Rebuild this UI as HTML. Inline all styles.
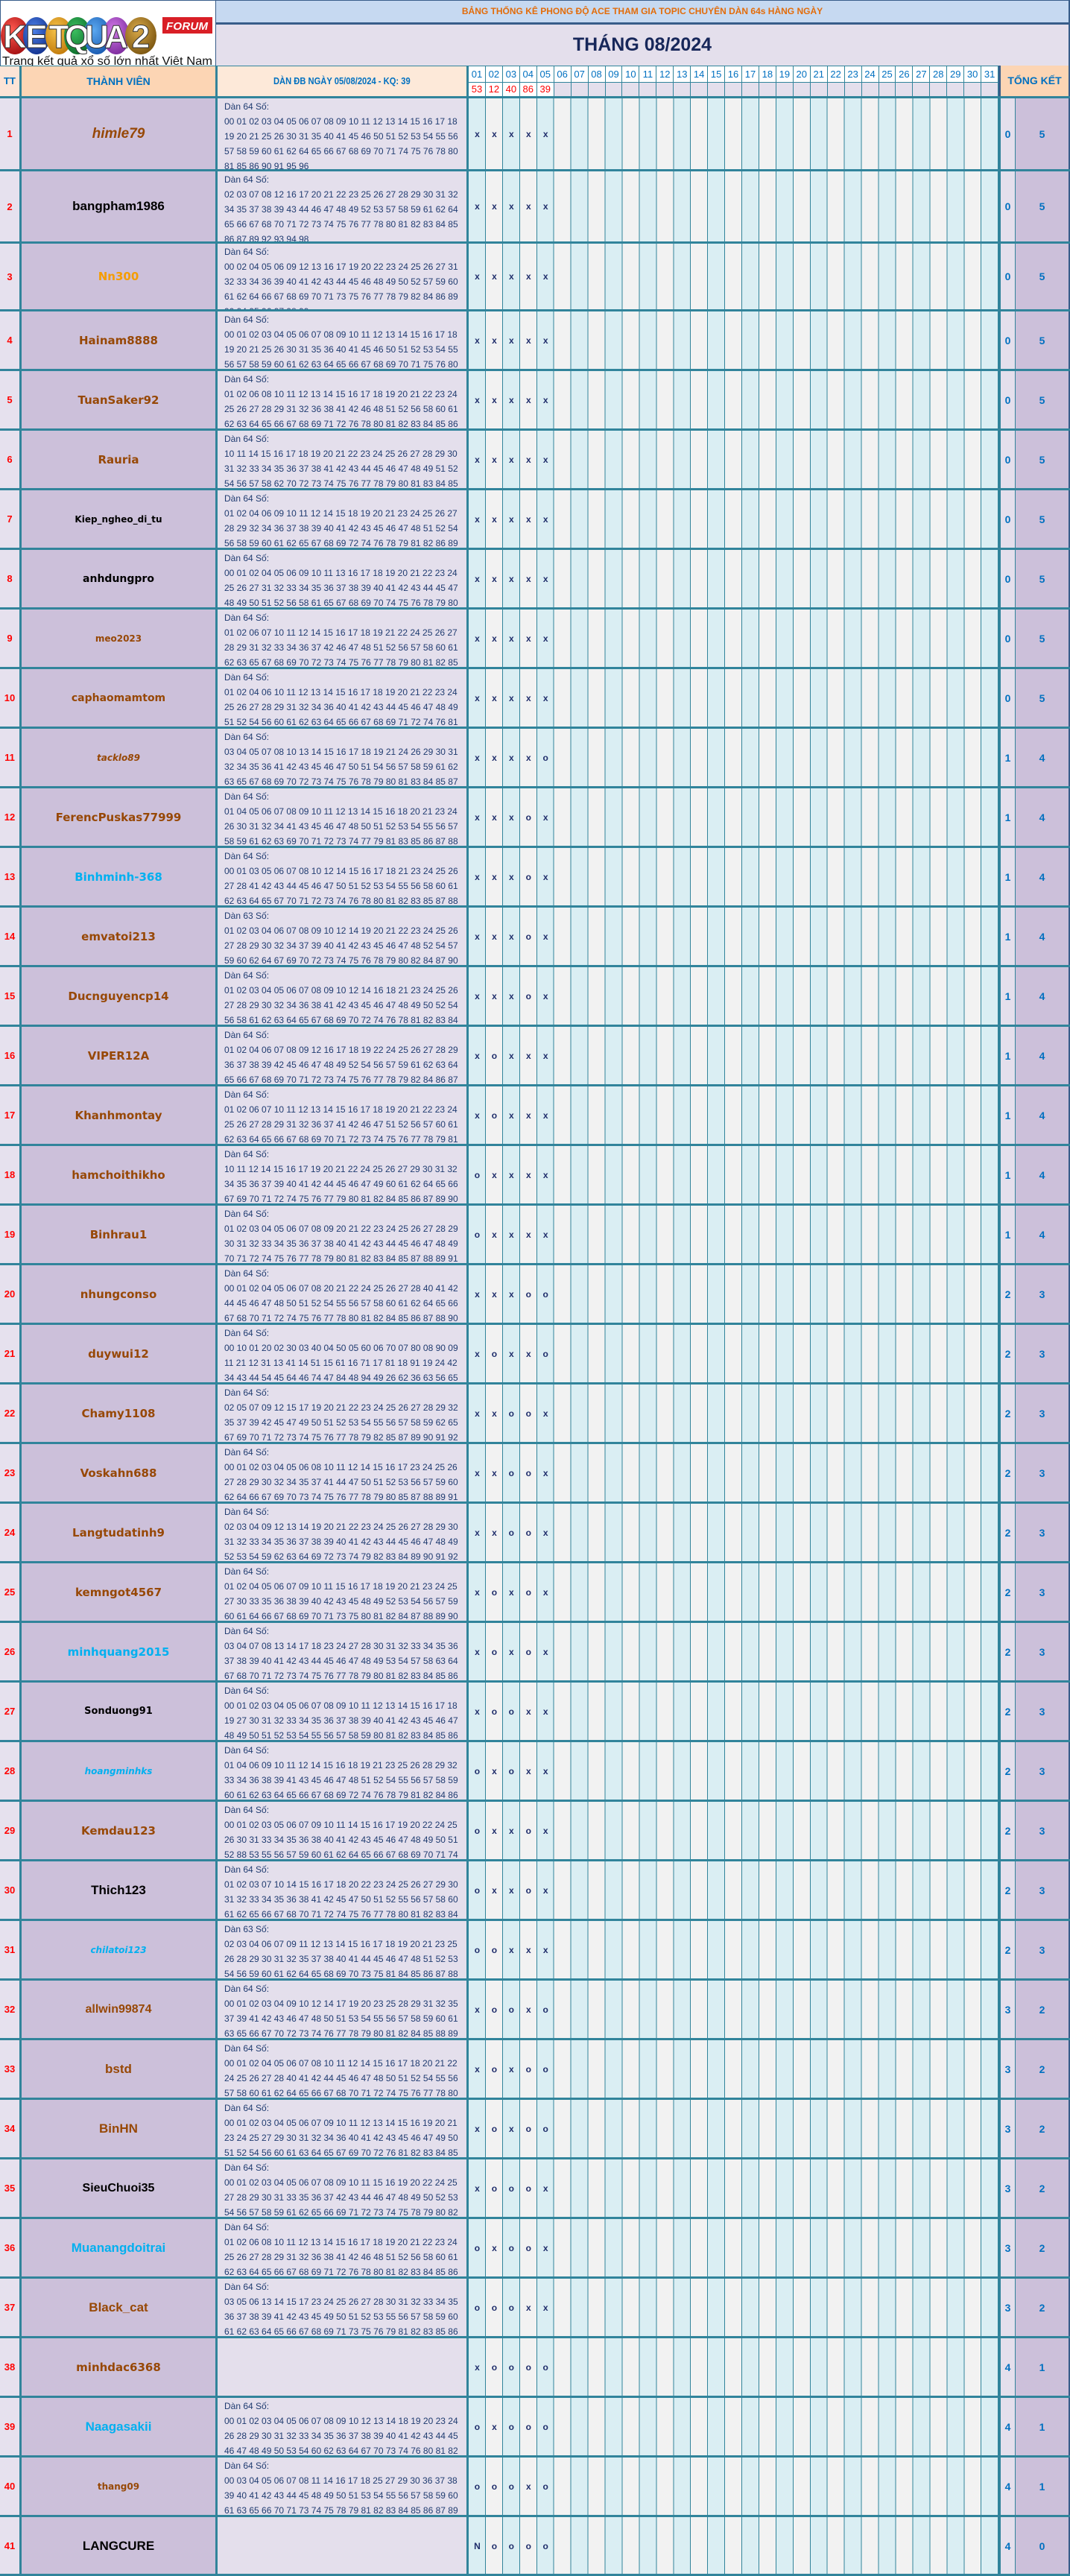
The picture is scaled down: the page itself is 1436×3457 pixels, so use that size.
<!DOCTYPE html>
<html><head><meta charset="utf-8">
<style>
*{margin:0;padding:0;box-sizing:border-box}
body{width:1436px;height:3457px;position:relative;background:#fff;font-family:"Liberation Sans",sans-serif;overflow:hidden}
.a{position:absolute}
.r{position:absolute;left:0;width:1436px;border-top:3px solid #31849b}
.r>div{position:absolute;top:0;bottom:0}
.t{left:0;width:26px;background:#e6e1ee;color:#f00;font-weight:bold;font-size:13px;display:flex;align-items:center;justify-content:center}
.n{left:26px;width:263px;border-left:3px solid #31849b;background:#ccc0da;display:flex;align-items:center;justify-content:center;font-family:"DejaVu Sans",sans-serif;font-weight:bold;font-size:15px;color:#974806;white-space:nowrap}
.d{left:289px;width:340px;border-left:3px solid #31849b;background:#e4dfec;color:#1f3b70;font-size:12px;line-height:20px;padding:1px 0 0 9px;white-space:nowrap;overflow:hidden}
.m{left:626px;width:717px;border-left:3px solid #31849b;border-right:3px solid #31849b;display:flex;align-items:center;background:repeating-linear-gradient(90deg,#daeef3 0,#daeef3 21.94px,#31849b 21.94px,#31849b 22.94px,#f2f2f2 22.94px,#f2f2f2 44.88px,#31849b 44.88px,#31849b 45.88px)}
.m span{width:22.94px;text-align:center;font-weight:bold;font-size:12px;color:#1f2d6b}
.u{left:1343px;width:20px;background:#e4dfec;border-right:1px solid #31849b;display:flex;align-items:center;justify-content:center;color:#0070c0;font-weight:bold;font-size:14px}
.v{left:1363px;width:73px;background:#ccc0da;border-right:2px solid #385d8a;display:flex;align-items:center;justify-content:center;color:#0070c0;font-weight:bold;font-size:14px}
.L{font-family:"Liberation Sans",sans-serif;font-size:17px}
.k{color:#000}.b{color:#00b0f0}.o{color:#f59d00}.i{font-style:italic}.s{font-size:12px}.s13{font-size:13px}.s14{font-size:14px}
.hd{display:flex;position:absolute;left:629px;width:711px}
.hd span{width:22.94px;border-right:1px solid #31849b;text-align:center;font-size:13px}
</style></head><body>

<!-- logo -->
<div class="a" style="left:0;top:0;width:289px;height:88px;background:#fff;border-left:1px solid #385d8a;border-top:1px solid #385d8a">
<svg width="289" height="88" viewBox="0 0 289 88">
<defs>
<radialGradient id="g1" cx="40%" cy="35%" r="70%"><stop offset="0" stop-color="#ff5a50"/><stop offset="1" stop-color="#a30d10"/></radialGradient>
<radialGradient id="g2" cx="40%" cy="35%" r="70%"><stop offset="0" stop-color="#4c80e8"/><stop offset="1" stop-color="#12318e"/></radialGradient>
<radialGradient id="g3" cx="40%" cy="35%" r="70%"><stop offset="0" stop-color="#f6c34a"/><stop offset="1" stop-color="#c17a0b"/></radialGradient>
<radialGradient id="g4" cx="40%" cy="35%" r="70%"><stop offset="0" stop-color="#3cc060"/><stop offset="1" stop-color="#0b6b2a"/></radialGradient>
<radialGradient id="g5" cx="40%" cy="35%" r="70%"><stop offset="0" stop-color="#5aa8f0"/><stop offset="1" stop-color="#1859b0"/></radialGradient>
<radialGradient id="g6" cx="40%" cy="35%" r="70%"><stop offset="0" stop-color="#d27ae8"/><stop offset="1" stop-color="#7b2a9c"/></radialGradient>
<radialGradient id="g7" cx="40%" cy="35%" r="70%"><stop offset="0" stop-color="#d8a848"/><stop offset="1" stop-color="#7a5510"/></radialGradient>
</defs>
<ellipse cx="19" cy="47" rx="19" ry="25" fill="url(#g1)"/>
<ellipse cx="48" cy="47" rx="18" ry="25" fill="url(#g2)"/>
<ellipse cx="78" cy="47" rx="18" ry="25" fill="url(#g3)"/>
<ellipse cx="103" cy="47" rx="18" ry="25" fill="url(#g4)"/>
<ellipse cx="129" cy="47" rx="18" ry="25" fill="url(#g5)"/>
<ellipse cx="155" cy="47" rx="18" ry="25" fill="url(#g6)"/>
<ellipse cx="188" cy="47" rx="21" ry="25" fill="url(#g7)"/>
<g font-family="Liberation Sans" font-weight="bold" font-size="44" fill="#fff" stroke="#333" stroke-width="1" text-anchor="middle">
<text x="19" y="63">K</text><text x="48" y="63">E</text><text x="78" y="63">T</text><text x="103" y="63">Q</text><text x="129" y="63">U</text><text x="155" y="63">A</text><text x="188" y="63">2</text>
</g>
<rect x="217" y="22" width="67" height="22" fill="#d91f26"/>
<text x="250" y="39" text-anchor="middle" font-family="Liberation Sans" font-weight="bold" font-style="italic" font-size="15" fill="#fff" textLength="56">FORUM</text>
<text x="2" y="86" font-family="Liberation Sans" font-size="16" fill="#111" textLength="282" lengthAdjust="spacingAndGlyphs">Trang kết quả xổ số lớn nhất Việt Nam</text>
</svg></div>

<!-- title -->
<div class="a" style="left:289px;top:0;width:1147px;height:30px;background:#c6d9f1;border-left:1px solid #385d8a;border-top:1px solid #385d8a;border-right:2px solid #385d8a;text-align:center;color:#e36c09;font-weight:bold;font-size:12px;line-height:29px">BẢNG THỐNG KÊ PHONG ĐỘ ACE THAM GIA TOPIC CHUYÊN DÀN 64s HÀNG NGÀY</div>
<div class="a" style="left:289px;top:30px;width:1147px;height:3px;background:#385d8a"></div>
<div class="a" style="left:289px;top:33px;width:1147px;height:55px;background:#e4dfec;border-left:1px solid #385d8a;border-right:2px solid #385d8a;text-align:center;color:#17275a;font-weight:bold;font-size:25px;line-height:54px">THÁNG 08/2024</div>

<!-- header row -->
<div class="a" style="left:0;top:88px;width:1436px;height:1px;background:#31849b"></div>
<div class="a" style="left:0;top:89px;width:26px;height:40px;background:#fce4d6;color:#0070c0;font-weight:bold;font-size:13px;line-height:40px;text-align:center">TT</div>
<div class="a" style="left:26px;top:89px;width:263px;height:40px;background:#fcd5b4;border-left:3px solid #31849b;color:#0070c0;font-weight:bold;font-size:14px;line-height:40px;text-align:center">THÀNH VIÊN</div>
<div class="a" style="left:289px;top:89px;width:340px;height:40px;background:#fde9d9;border-left:3px solid #31849b;border-right:3px solid #31849b;color:#0070c0;font-weight:bold;font-size:13px;line-height:40px;text-align:center"><span style="display:inline-block;transform:scaleX(.86)">DÀN ĐB NGÀY 05/08/2024 - KQ: 39</span></div>
<div class="hd" style="top:89px;height:21px;background:#fff;color:#0070c0;line-height:21px"><span>01</span><span>02</span><span>03</span><span>04</span><span>05</span><span>06</span><span>07</span><span>08</span><span>09</span><span>10</span><span>11</span><span>12</span><span>13</span><span>14</span><span>15</span><span>16</span><span>17</span><span>18</span><span>19</span><span>20</span><span>21</span><span>22</span><span>23</span><span>24</span><span>25</span><span>26</span><span>27</span><span>28</span><span>29</span><span>30</span><span>31</span></div>
<div class="a" style="left:629px;top:110px;width:711px;height:1px;background:#31849b"></div>
<div class="hd" style="top:111px;height:18px;background:#e4dfec;color:#f00;line-height:18px"><span style="background:#fff">53</span><span style="background:#fff">12</span><span style="background:#fff">40</span><span style="background:#fff">86</span><span style="background:#fff">39</span><span></span><span></span><span></span><span></span><span></span><span></span><span></span><span></span><span></span><span></span><span></span><span></span><span></span><span></span><span></span><span></span><span></span><span></span><span></span><span></span><span></span><span></span><span></span><span></span><span></span><span></span></div>
<div class="a" style="left:1340px;top:88px;width:96px;height:41px;background:#fcd5b4;border-left:3px solid #385d8a;border-right:2px solid #385d8a;color:#0070c0;font-weight:bold;font-size:14px;line-height:40px;text-align:center">TỔNG KẾT</div>

<!-- rows -->
<div class="r" style="top:129px;height:98px"><div class="t">1</div><div class="n L i" style="font-size:19px">himle79</div><div class="d">Dàn 64 Số:<br>00 01 02 03 04 05 06 07 08 09 10 11 12 13 14 15 16 17 18<br>19 20 21 25 26 30 31 35 40 41 45 46 50 51 52 53 54 55 56<br>57 58 59 60 61 62 64 65 66 67 68 69 70 71 74 75 76 78 80<br>81 85 86 90 91 95 96</div><div class="m"><span>x</span><span>x</span><span>x</span><span>x</span><span>x</span></div><div class="u">0</div><div class="v">5</div></div>
<div class="r" style="top:227px;height:97px"><div class="t">2</div><div class="n L k">bangpham1986</div><div class="d">Dàn 64 Số:<br>02 03 07 08 12 16 17 20 21 22 23 25 26 27 28 29 30 31 32<br>34 35 37 38 39 43 44 46 47 48 49 52 53 57 58 59 61 62 64<br>65 66 67 68 70 71 72 73 74 75 76 77 78 80 81 82 83 84 85<br>86 87 89 92 93 94 98</div><div class="m"><span>x</span><span>x</span><span>x</span><span>x</span><span>x</span></div><div class="u">0</div><div class="v">5</div></div>
<div class="r" style="top:324px;height:91px"><div class="t">3</div><div class="n o">Nn300</div><div class="d">Dàn 64 Số:<br>00 02 04 05 06 09 12 13 16 17 19 20 22 23 24 25 26 27 31<br>32 33 34 36 39 40 41 42 43 44 45 46 48 49 50 52 57 59 60<br>61 62 64 66 67 68 69 70 71 73 75 76 77 78 79 82 84 86 89<br>90 94 95 96 97 98 99</div><div class="m"><span>x</span><span>x</span><span>x</span><span>x</span><span>x</span></div><div class="u">0</div><div class="v">5</div></div>
<div class="r" style="top:415px;height:80px"><div class="t">4</div><div class="n">Hainam8888</div><div class="d">Dàn 64 Số:<br>00 01 02 03 04 05 06 07 08 09 10 11 12 13 14 15 16 17 18<br>19 20 21 25 26 30 31 35 36 40 41 45 46 50 51 52 53 54 55<br>56 57 58 59 60 61 62 63 64 65 66 67 68 69 70 71 75 76 80</div><div class="m"><span>x</span><span>x</span><span>x</span><span>x</span><span>x</span></div><div class="u">0</div><div class="v">5</div></div>
<div class="r" style="top:495px;height:80px"><div class="t">5</div><div class="n">TuanSaker92</div><div class="d">Dàn 64 Số:<br>01 02 06 08 10 11 12 13 14 15 16 17 18 19 20 21 22 23 24<br>25 26 27 28 29 31 32 36 38 41 42 46 48 51 52 56 58 60 61<br>62 63 64 65 66 67 68 69 71 72 76 78 80 81 82 83 84 85 86</div><div class="m"><span>x</span><span>x</span><span>x</span><span>x</span><span>x</span></div><div class="u">0</div><div class="v">5</div></div>
<div class="r" style="top:575px;height:80px"><div class="t">6</div><div class="n">Rauria</div><div class="d">Dàn 64 Số:<br>10 11 14 15 16 17 18 19 20 21 22 23 24 25 26 27 28 29 30<br>31 32 33 34 35 36 37 38 41 42 43 44 45 46 47 48 49 51 52<br>54 56 57 58 62 70 72 73 74 75 76 77 78 79 80 81 83 84 85</div><div class="m"><span>x</span><span>x</span><span>x</span><span>x</span><span>x</span></div><div class="u">0</div><div class="v">5</div></div>
<div class="r" style="top:655px;height:80px"><div class="t">7</div><div class="n k s">Kiep_ngheo_di_tu</div><div class="d">Dàn 64 Số:<br>01 02 04 06 09 10 11 12 14 15 18 19 20 21 23 24 25 26 27<br>28 29 32 34 36 37 38 39 40 41 42 43 45 46 47 48 51 52 54<br>56 58 59 60 61 62 65 67 68 69 72 74 76 78 79 81 82 86 89</div><div class="m"><span>x</span><span>x</span><span>x</span><span>x</span><span>x</span></div><div class="u">0</div><div class="v">5</div></div>
<div class="r" style="top:735px;height:80px"><div class="t">8</div><div class="n k s14">anhdungpro</div><div class="d">Dàn 64 Số:<br>00 01 02 04 05 06 09 10 11 13 16 17 18 19 20 21 22 23 24<br>25 26 27 31 32 33 34 35 36 37 38 39 40 41 42 43 44 45 47<br>48 49 50 51 52 56 58 61 65 67 68 69 70 74 75 76 78 79 80</div><div class="m"><span>x</span><span>x</span><span>x</span><span>x</span><span>x</span></div><div class="u">0</div><div class="v">5</div></div>
<div class="r" style="top:815px;height:80px"><div class="t">9</div><div class="n s">meo2023</div><div class="d">Dàn 64 Số:<br>01 02 06 07 10 11 12 14 15 16 17 18 19 21 22 24 25 26 27<br>28 29 31 32 33 34 36 37 42 46 47 48 51 52 56 57 58 60 61<br>62 63 65 67 68 69 70 72 73 74 75 76 77 78 79 80 81 82 85</div><div class="m"><span>x</span><span>x</span><span>x</span><span>x</span><span>x</span></div><div class="u">0</div><div class="v">5</div></div>
<div class="r" style="top:895px;height:80px"><div class="t">10</div><div class="n s14">caphaomamtom</div><div class="d">Dàn 64 Số:<br>01 02 04 06 10 11 12 13 14 15 16 17 18 19 20 21 22 23 24<br>25 26 27 28 29 31 32 34 36 40 41 42 43 44 45 46 47 48 49<br>51 52 54 56 60 61 62 63 64 65 66 67 68 69 71 72 74 76 81</div><div class="m"><span>x</span><span>x</span><span>x</span><span>x</span><span>x</span></div><div class="u">0</div><div class="v">5</div></div>
<div class="r" style="top:975px;height:80px"><div class="t">11</div><div class="n i s">tacklo89</div><div class="d">Dàn 64 Số:<br>03 04 05 07 08 10 13 14 15 16 17 18 19 21 24 26 29 30 31<br>32 34 35 36 41 42 43 45 46 47 50 51 54 56 57 58 59 61 62<br>63 65 67 68 69 70 72 73 74 75 76 78 79 80 81 83 84 85 87</div><div class="m"><span>x</span><span>x</span><span>x</span><span>x</span><span>o</span></div><div class="u">1</div><div class="v">4</div></div>
<div class="r" style="top:1055px;height:80px"><div class="t">12</div><div class="n">FerencPuskas77999</div><div class="d">Dàn 64 Số:<br>01 04 05 06 07 08 09 10 11 12 13 14 15 16 18 20 21 23 24<br>26 30 31 32 34 41 43 45 46 47 48 50 51 52 53 54 55 56 57<br>58 59 61 62 63 69 70 71 72 73 74 77 79 81 83 85 86 87 88</div><div class="m"><span>x</span><span>x</span><span>x</span><span>o</span><span>x</span></div><div class="u">1</div><div class="v">4</div></div>
<div class="r" style="top:1135px;height:80px"><div class="t">13</div><div class="n b">Binhminh-368</div><div class="d">Dàn 64 Số:<br>00 01 03 05 06 07 08 10 12 14 15 16 17 18 21 23 24 25 26<br>27 28 41 42 43 44 45 46 47 50 51 52 53 54 55 56 58 60 61<br>62 63 64 65 67 70 71 72 73 74 76 78 80 81 82 83 85 87 88</div><div class="m"><span>x</span><span>x</span><span>x</span><span>o</span><span>x</span></div><div class="u">1</div><div class="v">4</div></div>
<div class="r" style="top:1215px;height:80px"><div class="t">14</div><div class="n">emvatoi213</div><div class="d">Dàn 63 Số:<br>01 02 03 04 06 07 08 09 10 12 14 19 20 21 22 23 24 25 26<br>27 28 29 30 32 34 37 39 40 41 42 43 45 46 47 48 52 54 57<br>59 60 62 64 67 69 70 72 73 74 75 76 78 79 80 82 84 87 90</div><div class="m"><span>x</span><span>x</span><span>x</span><span>o</span><span>x</span></div><div class="u">1</div><div class="v">4</div></div>
<div class="r" style="top:1295px;height:80px"><div class="t">15</div><div class="n">Ducnguyencp14</div><div class="d">Dàn 64 Số:<br>01 02 03 04 05 06 07 08 09 10 12 14 16 18 21 23 24 25 26<br>27 28 29 30 32 34 36 38 41 42 43 45 46 47 48 49 50 52 54<br>56 58 61 62 63 64 65 67 68 69 70 72 74 76 78 81 82 83 84</div><div class="m"><span>x</span><span>x</span><span>x</span><span>o</span><span>x</span></div><div class="u">1</div><div class="v">4</div></div>
<div class="r" style="top:1375px;height:80px"><div class="t">16</div><div class="n">VIPER12A</div><div class="d">Dàn 64 Số:<br>01 02 04 06 07 08 09 12 16 17 18 19 22 24 25 26 27 28 29<br>36 37 38 39 42 45 46 47 48 49 52 54 56 57 59 61 62 63 64<br>65 66 67 68 69 70 71 72 73 74 75 76 77 78 79 82 84 86 87</div><div class="m"><span>x</span><span>o</span><span>x</span><span>x</span><span>x</span></div><div class="u">1</div><div class="v">4</div></div>
<div class="r" style="top:1455px;height:80px"><div class="t">17</div><div class="n">Khanhmontay</div><div class="d">Dàn 64 Số:<br>01 02 06 07 10 11 12 13 14 15 16 17 18 19 20 21 22 23 24<br>25 26 27 28 29 31 32 36 37 41 42 46 47 51 52 56 57 60 61<br>62 63 64 65 66 67 68 69 70 71 72 73 74 75 76 77 78 79 81</div><div class="m"><span>x</span><span>o</span><span>x</span><span>x</span><span>x</span></div><div class="u">1</div><div class="v">4</div></div>
<div class="r" style="top:1535px;height:80px"><div class="t">18</div><div class="n">hamchoithikho</div><div class="d">Dàn 64 Số:<br>10 11 12 14 15 16 17 19 20 21 22 24 25 26 27 29 30 31 32<br>34 35 36 37 39 40 41 42 44 45 46 47 49 60 61 62 64 65 66<br>67 69 70 71 72 74 75 76 77 79 80 81 82 84 85 86 87 89 90</div><div class="m"><span>o</span><span>x</span><span>x</span><span>x</span><span>x</span></div><div class="u">1</div><div class="v">4</div></div>
<div class="r" style="top:1615px;height:80px"><div class="t">19</div><div class="n">Binhrau1</div><div class="d">Dàn 64 Số:<br>01 02 03 04 05 06 07 08 09 20 21 22 23 24 25 26 27 28 29<br>30 31 32 33 34 35 36 37 38 40 41 42 43 44 45 46 47 48 49<br>70 71 72 74 75 76 77 78 79 80 81 82 83 84 85 87 88 89 91</div><div class="m"><span>o</span><span>x</span><span>x</span><span>x</span><span>x</span></div><div class="u">1</div><div class="v">4</div></div>
<div class="r" style="top:1695px;height:80px"><div class="t">20</div><div class="n">nhungconso</div><div class="d">Dàn 64 Số:<br>00 01 02 04 05 06 07 08 20 21 22 24 25 26 27 28 40 41 42<br>44 45 46 47 48 50 51 52 54 55 56 57 58 60 61 62 64 65 66<br>67 68 70 71 72 74 75 76 77 78 80 81 82 84 85 86 87 88 90</div><div class="m"><span>x</span><span>x</span><span>x</span><span>o</span><span>o</span></div><div class="u">2</div><div class="v">3</div></div>
<div class="r" style="top:1775px;height:80px"><div class="t">21</div><div class="n">duywui12</div><div class="d">Dàn 64 Số:<br>00 10 01 20 02 30 03 40 04 50 05 60 06 70 07 80 08 90 09<br>11 21 12 31 13 41 14 51 15 61 16 71 17 81 18 91 19 24 42<br>34 43 44 54 45 64 46 74 47 84 48 94 49 26 62 36 63 56 65</div><div class="m"><span>x</span><span>o</span><span>x</span><span>x</span><span>o</span></div><div class="u">2</div><div class="v">3</div></div>
<div class="r" style="top:1855px;height:80px"><div class="t">22</div><div class="n">Chamy1108</div><div class="d">Dàn 64 Số:<br>02 05 07 09 12 15 17 19 20 21 22 23 24 25 26 27 28 29 32<br>35 37 39 42 45 47 49 50 51 52 53 54 55 56 57 58 59 62 65<br>67 69 70 71 72 73 74 75 76 77 78 79 82 85 87 89 90 91 92</div><div class="m"><span>x</span><span>x</span><span>o</span><span>o</span><span>x</span></div><div class="u">2</div><div class="v">3</div></div>
<div class="r" style="top:1935px;height:80px"><div class="t">23</div><div class="n">Voskahn688</div><div class="d">Dàn 64 Số:<br>00 01 02 03 04 05 06 08 10 11 12 14 15 16 17 23 24 25 26<br>27 28 29 30 32 34 35 37 41 44 47 50 51 52 53 56 57 59 60<br>62 64 66 67 69 70 73 74 75 76 77 78 79 80 85 87 88 89 91</div><div class="m"><span>x</span><span>x</span><span>o</span><span>o</span><span>x</span></div><div class="u">2</div><div class="v">3</div></div>
<div class="r" style="top:2015px;height:80px"><div class="t">24</div><div class="n">Langtudatinh9</div><div class="d">Dàn 64 Số:<br>02 03 04 09 12 13 14 19 20 21 22 23 24 25 26 27 28 29 30<br>31 32 33 34 35 36 37 38 39 40 41 42 43 44 45 46 47 48 49<br>52 53 54 59 62 63 64 69 72 73 74 79 82 83 84 89 90 91 92</div><div class="m"><span>x</span><span>x</span><span>o</span><span>o</span><span>x</span></div><div class="u">2</div><div class="v">3</div></div>
<div class="r" style="top:2095px;height:80px"><div class="t">25</div><div class="n">kemngot4567</div><div class="d">Dàn 64 Số:<br>01 02 04 05 06 07 09 10 11 15 16 17 18 19 20 21 23 24 25<br>27 30 33 35 36 38 39 40 42 43 45 48 49 52 53 54 56 57 59<br>60 61 64 66 67 68 69 70 71 73 75 80 81 82 84 87 88 89 90</div><div class="m"><span>x</span><span>o</span><span>x</span><span>o</span><span>x</span></div><div class="u">2</div><div class="v">3</div></div>
<div class="r" style="top:2175px;height:80px"><div class="t">26</div><div class="n b">minhquang2015</div><div class="d">Dàn 64 Số:<br>03 04 07 08 13 14 17 18 23 24 27 28 30 31 32 33 34 35 36<br>37 38 39 40 41 42 43 44 45 46 47 48 49 53 54 57 58 63 64<br>67 68 70 71 72 73 74 75 76 77 78 79 80 81 82 83 84 85 86</div><div class="m"><span>x</span><span>o</span><span>x</span><span>o</span><span>x</span></div><div class="u">2</div><div class="v">3</div></div>
<div class="r" style="top:2255px;height:80px"><div class="t">27</div><div class="n k s13">Sonduong91</div><div class="d">Dàn 64 Số:<br>00 01 02 03 04 05 06 07 08 09 10 11 12 13 14 15 16 17 18<br>19 27 30 31 32 33 34 35 36 37 38 39 40 41 42 43 45 46 47<br>48 49 50 51 52 53 54 55 56 57 58 59 80 81 82 83 84 85 86</div><div class="m"><span>x</span><span>o</span><span>o</span><span>x</span><span>x</span></div><div class="u">2</div><div class="v">3</div></div>
<div class="r" style="top:2335px;height:80px"><div class="t">28</div><div class="n b i s">hoangminhks</div><div class="d">Dàn 64 Số:<br>01 04 06 09 10 11 12 14 15 16 18 19 21 23 25 26 28 29 32<br>33 34 36 38 39 41 43 45 46 47 48 51 52 54 55 56 57 58 59<br>60 61 62 63 64 65 66 67 68 69 72 74 76 78 79 81 82 84 86</div><div class="m"><span>o</span><span>x</span><span>o</span><span>x</span><span>x</span></div><div class="u">2</div><div class="v">3</div></div>
<div class="r" style="top:2415px;height:80px"><div class="t">29</div><div class="n">Kemdau123</div><div class="d">Dàn 64 Số:<br>00 01 02 03 05 06 07 09 10 11 14 15 16 17 19 20 22 24 25<br>26 30 31 33 34 35 36 38 40 41 42 43 45 46 47 48 49 50 51<br>52 88 53 55 56 57 59 60 61 62 64 65 66 67 68 69 70 71 74</div><div class="m"><span>o</span><span>x</span><span>x</span><span>o</span><span>x</span></div><div class="u">2</div><div class="v">3</div></div>
<div class="r" style="top:2495px;height:80px"><div class="t">30</div><div class="n L k">Thich123</div><div class="d">Dàn 64 Số:<br>01 02 03 07 10 14 15 16 17 18 20 22 23 24 25 26 27 29 30<br>31 32 33 34 35 36 38 41 42 45 47 50 51 52 55 56 57 58 60<br>61 62 65 66 67 68 70 71 72 74 75 76 77 78 80 81 82 83 84</div><div class="m"><span>o</span><span>x</span><span>x</span><span>o</span><span>x</span></div><div class="u">2</div><div class="v">3</div></div>
<div class="r" style="top:2575px;height:80px"><div class="t">31</div><div class="n b i s">chilatoi123</div><div class="d">Dàn 63 Số:<br>02 03 04 06 07 09 11 12 13 14 15 16 17 18 19 20 21 23 25<br>26 28 29 30 31 32 35 37 38 40 41 44 45 46 47 48 51 52 53<br>54 56 59 60 61 62 64 65 68 69 70 73 75 81 84 85 86 87 88</div><div class="m"><span>o</span><span>o</span><span>x</span><span>x</span><span>x</span></div><div class="u">2</div><div class="v">3</div></div>
<div class="r" style="top:2655px;height:80px"><div class="t">32</div><div class="n L" style="font-size:16px">allwin99874</div><div class="d">Dàn 64 Số:<br>00 01 02 03 04 09 10 12 14 17 19 20 23 25 28 29 31 32 35<br>37 39 41 42 43 46 47 48 50 51 53 54 55 56 57 58 59 60 61<br>63 65 66 67 70 72 73 74 76 77 78 79 80 81 82 84 85 88 89</div><div class="m"><span>x</span><span>o</span><span>o</span><span>x</span><span>o</span></div><div class="u">3</div><div class="v">2</div></div>
<div class="r" style="top:2735px;height:80px"><div class="t">33</div><div class="n L">bstd</div><div class="d">Dàn 64 Số:<br>00 01 02 04 05 06 07 08 10 11 12 14 15 16 17 18 20 21 22<br>24 25 26 27 28 40 41 42 44 45 46 47 48 50 51 52 54 55 56<br>57 58 60 61 62 64 65 66 67 68 70 71 72 74 75 76 77 78 80</div><div class="m"><span>x</span><span>o</span><span>x</span><span>o</span><span>o</span></div><div class="u">3</div><div class="v">2</div></div>
<div class="r" style="top:2815px;height:80px"><div class="t">34</div><div class="n L">BinHN</div><div class="d">Dàn 64 Số:<br>00 01 02 03 04 05 06 07 09 10 11 12 13 14 15 16 19 20 21<br>23 24 25 27 29 30 31 32 34 36 40 41 42 43 45 46 47 49 50<br>51 52 54 56 60 61 63 64 65 67 69 70 72 76 81 82 83 84 85</div><div class="m"><span>x</span><span>o</span><span>x</span><span>o</span><span>o</span></div><div class="u">3</div><div class="v">2</div></div>
<div class="r" style="top:2895px;height:80px"><div class="t">35</div><div class="n L k" style="font-size:16px">SieuChuoi35</div><div class="d">Dàn 64 Số:<br>00 01 02 03 04 05 06 07 08 09 10 11 15 16 19 20 22 24 25<br>27 28 29 30 31 33 35 36 37 42 43 44 46 47 48 49 50 52 53<br>54 56 57 58 59 61 62 65 66 69 71 72 73 74 75 78 79 80 82</div><div class="m"><span>x</span><span>o</span><span>o</span><span>o</span><span>x</span></div><div class="u">3</div><div class="v">2</div></div>
<div class="r" style="top:2975px;height:80px"><div class="t">36</div><div class="n L b">Muanangdoitrai</div><div class="d">Dàn 64 Số:<br>01 02 06 08 10 11 12 13 14 15 16 17 18 19 20 21 22 23 24<br>25 26 27 28 29 31 32 36 38 41 42 46 48 51 52 56 58 60 61<br>62 63 64 65 66 67 68 69 71 72 76 78 80 81 82 83 84 85 86</div><div class="m"><span>o</span><span>x</span><span>o</span><span>o</span><span>x</span></div><div class="u">3</div><div class="v">2</div></div>
<div class="r" style="top:3055px;height:80px"><div class="t">37</div><div class="n L">Black_cat</div><div class="d">Dàn 64 Số:<br>03 05 06 13 14 15 17 23 24 25 26 27 28 30 31 32 33 34 35<br>36 37 38 39 41 42 43 45 49 50 51 52 53 55 56 57 58 59 60<br>61 62 63 64 65 66 67 68 69 71 73 75 76 79 81 82 83 85 86</div><div class="m"><span>o</span><span>o</span><span>o</span><span>x</span><span>x</span></div><div class="u">3</div><div class="v">2</div></div>
<div class="r" style="top:3135px;height:80px"><div class="t">38</div><div class="n">minhdac6368</div><div class="d"></div><div class="m"><span>x</span><span>o</span><span>o</span><span>o</span><span>o</span></div><div class="u">4</div><div class="v">1</div></div>
<div class="r" style="top:3215px;height:80px"><div class="t">39</div><div class="n L b">Naagasakii</div><div class="d">Dàn 64 Số:<br>00 01 02 03 04 05 06 07 08 09 10 12 13 14 18 19 20 23 24<br>26 28 29 30 31 32 33 34 35 36 37 38 39 40 41 42 43 44 45<br>46 47 48 49 50 53 54 60 62 63 64 67 70 73 74 76 80 81 82</div><div class="m"><span>o</span><span>x</span><span>o</span><span>o</span><span>o</span></div><div class="u">4</div><div class="v">1</div></div>
<div class="r" style="top:3295px;height:80px"><div class="t">40</div><div class="n s">thang09</div><div class="d">Dàn 64 Số:<br>00 03 04 05 06 07 08 11 14 16 17 18 25 27 29 30 36 37 38<br>39 40 41 42 43 44 45 48 49 50 51 53 54 55 56 57 58 59 60<br>61 63 65 66 70 71 73 74 75 78 79 81 82 83 84 85 86 87 89</div><div class="m"><span>o</span><span>o</span><span>o</span><span>x</span><span>o</span></div><div class="u">4</div><div class="v">1</div></div>
<div class="r" style="top:3375px;height:80px"><div class="t">41</div><div class="n L k">LANGCURE</div><div class="d"></div><div class="m"><span>N</span><span>o</span><span>o</span><span>o</span><span>o</span></div><div class="u">4</div><div class="v">0</div></div>
<div class="a" style="left:0;top:3454px;width:1436px;height:3px;background:#31849b"></div>
</body></html>
